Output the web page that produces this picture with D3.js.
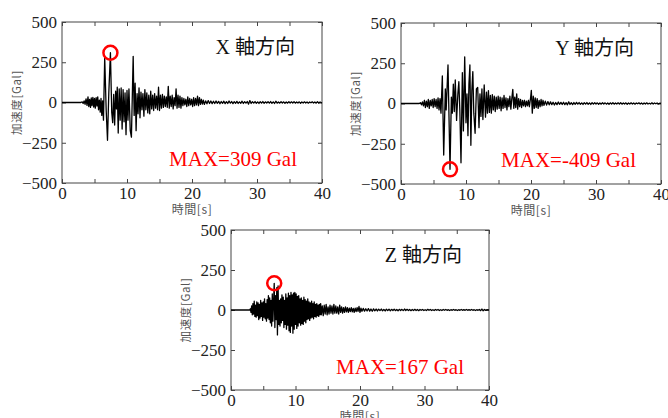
<!DOCTYPE html>
<html>
<head>
<meta charset="utf-8">
<script src="https://cdn.jsdelivr.net/npm/d3@7"></script>
<style>
  body { margin: 0; background: #fff; }
  svg { display: block; }
  .tick line { stroke: #444; }
</style>
</head>
<body>
<svg></svg>
<script>
// time [s], acceleration [Gal]
const waveX = [
  [0,0],[2.9,0],[3.1,4],[3.25,-6],[3.4,10],[3.55,-12],[3.7,22],[3.85,-18],[4.0,35],[4.12,-25],
  [4.25,20],[4.38,-30],[4.5,28],[4.62,-20],[4.75,32],[4.88,-28],[5.0,25],[5.12,-35],[5.25,30],[5.38,-22],
  [5.5,35],[5.62,-45],[5.75,15],[5.88,-60],[6.0,25],[6.12,-80],[6.25,10],[6.38,-110],[6.57,280],[6.8,-50],
  [7.0,-235],[7.2,60],[7.45,309],[7.65,-60],[7.8,-125],[7.95,50],[8.1,-140],[8.25,70],[8.38,-40],[8.5,95],
  [8.65,-190],[8.8,85],[8.95,-110],[9.1,90],[9.25,-165],[9.4,80],[9.55,-120],[9.7,60],[9.85,-200],[10.0,75],
  [10.15,-110],[10.3,85],[10.5,-175],[10.68,-215],[10.95,287],[11.1,-80],[11.25,120],[11.4,-175],[11.55,55],[11.7,-70],
  [11.85,90],[12.0,-95],[12.15,65],[12.3,-45],[12.45,55],[12.6,-85],[12.75,80],[12.9,-45],[13.05,60],[13.2,-65],
  [13.35,45],[13.5,-70],[13.65,70],[13.8,-40],[13.95,45],[14.1,-50],[14.25,55],[14.4,-35],[14.55,40],[14.7,-45],
  [14.85,95],[15.0,-50],[15.15,45],[15.3,-35],[15.45,50],[15.6,-30],[15.75,40],[15.9,-25],[16.05,35],[16.2,-30],
  [16.35,100],[16.5,-35],[16.65,40],[16.8,-25],[16.95,45],[17.1,-40],[17.25,30],[17.4,-20],[17.55,85],[17.7,-35],
  [17.85,45],[18.0,-30],[18.15,40],[18.3,-35],[18.45,30],[18.6,-20],[18.75,25],[18.9,-15],[19.05,20],[19.2,-25],
  [19.35,35],[19.5,-20],[19.65,25],[19.8,-15],[19.95,20],[20.1,-25],[20.25,30],[20.4,-20],[20.55,25],[20.7,-15],
  [20.85,40],[21.0,-20],[21.15,30],[21.3,-12],[21.45,20],[21.6,-10],[21.75,15],[21.9,-12],[22.1,10],[22.3,-8],
  [22.5,12],[22.7,-6],[22.9,9],[23.1,-7],[23.3,8],[23.5,-6],[23.7,9],[23.9,-5],[24.1,7],[24.3,-8],
  [24.5,6],[24.7,-5],[24.9,8],[25.1,-7],[25.3,5],[25.5,-6],[25.7,9],[25.9,-4],[26.1,6],[26.3,-7],
  [26.5,5],[26.7,-5],[26.9,7],[27.1,-6],[27.3,4],[27.5,-5],[27.7,8],[27.9,-6],[28.1,5],[28.3,-4],
  [28.5,6],[28.7,-10],[28.9,12],[29.1,-6],[29.3,5],[29.5,-4],[29.7,6],[29.9,-5],[30.1,4],[30.3,-6],
  [30.5,5],[30.7,-4],[30.9,6],[31.1,-5],[31.3,4],[31.5,-3],[31.7,5],[31.9,-4],[32.1,6],[32.3,-5],
  [32.5,4],[32.7,-6],[32.9,8],[33.1,-4],[33.3,3],[33.5,-4],[33.7,5],[33.9,-3],[34.1,4],[34.3,-5],
  [34.5,3],[34.7,-4],[34.9,5],[35.1,-3],[35.3,4],[35.5,-3],[35.7,5],[35.9,-4],[36.1,3],[36.3,-3],
  [36.5,4],[36.7,-5],[36.9,3],[37.1,-3],[37.3,4],[37.5,-3],[37.7,3],[37.9,-4],[38.1,3],[38.3,-2],
  [38.5,4],[38.7,-3],[38.9,3],[39.1,-4],[39.3,5],[39.5,-3],[39.7,3],[39.9,-2],[40,0]
];

const waveY = [
  [0,0],[2.8,0],[3.0,5],[3.15,-8],[3.3,10],[3.45,-15],[3.6,20],[3.75,-25],[3.9,15],[4.05,-20],
  [4.2,25],[4.35,-30],[4.5,20],[4.65,-15],[4.8,25],[4.95,-25],[5.1,30],[5.25,-20],[5.4,25],[5.55,-30],
  [5.7,35],[5.85,-40],[6.0,30],[6.15,-60],[6.36,171],[6.57,-320],[6.82,90],[6.95,-40],[7.23,239],[7.54,-409],
  [7.75,40],[7.9,-60],[8.05,120],[8.2,-50],[8.35,146],[8.55,-105],[8.75,60],[8.9,135],[9.05,-40],[9.23,-368],
  [9.44,191],[9.6,-170],[9.8,290],[10.0,-120],[10.15,60],[10.3,-200],[10.45,120],[10.6,239],[10.75,-260],[10.9,80],
  [11.05,198],[11.2,-60],[11.4,-185],[11.6,90],[11.8,100],[12.0,-150],[12.15,60],[12.3,-80],[12.45,90],[12.6,-100],
  [12.8,115],[13.0,-85],[13.15,70],[13.3,-60],[13.45,80],[13.6,-55],[13.75,50],[13.9,-60],[14.05,55],[14.2,-40],
  [14.35,45],[14.5,-50],[14.65,40],[14.8,-35],[14.95,45],[15.1,-30],[15.25,40],[15.4,-45],[15.55,35],[15.7,-30],
  [15.85,50],[16.0,-25],[16.15,35],[16.3,-40],[16.45,30],[16.6,-20],[16.75,45],[16.9,-35],[17.05,30],[17.2,88],
  [17.35,-30],[17.5,40],[17.65,-25],[17.8,60],[17.95,-35],[18.1,30],[18.25,-20],[18.4,25],[18.55,-25],[18.7,20],
  [18.85,-15],[19.0,20],[19.15,-20],[19.3,15],[19.45,-15],[19.6,20],[19.75,-20],[19.95,40],[20.05,82],[20.2,-60],
  [20.35,45],[20.5,-30],[20.65,35],[20.8,-25],[20.95,30],[21.1,-30],[21.25,20],[21.4,-20],[21.55,25],[21.7,-15],
  [21.85,20],[22.0,-12],[22.2,15],[22.4,-10],[22.6,12],[22.8,-8],[23.0,10],[23.2,-7],[23.4,8],[23.6,-9],
  [23.8,6],[24.0,-7],[24.2,9],[24.4,-5],[24.6,7],[24.8,-6],[25.0,8],[25.2,-7],[25.4,5],[25.6,-8],
  [25.8,10],[26.0,-6],[26.2,5],[26.4,-7],[26.6,6],[26.8,-5],[27.0,7],[27.2,-4],[27.4,6],[27.6,-5],
  [27.8,4],[28.0,-6],[28.2,5],[28.4,-4],[28.6,6],[28.8,-5],[29.0,4],[29.2,-6],[29.4,5],[29.6,-4],
  [29.8,5],[30.0,-3],[30.2,4],[30.4,-5],[30.6,3],[30.8,-4],[31.0,5],[31.2,-3],[31.4,4],[31.6,-4],
  [31.8,3],[32.0,-5],[32.2,4],[32.4,-3],[32.6,5],[32.8,-4],[33.0,3],[33.2,-3],[33.4,4],[33.6,-3],
  [33.8,5],[34.0,-4],[34.2,3],[34.4,-3],[34.6,4],[34.8,-5],[35.0,3],[35.2,-3],[35.4,4],[35.6,-3],
  [35.8,3],[36.0,-4],[36.2,3],[36.4,-2],[36.6,4],[36.8,-3],[37.0,3],[37.2,-4],[37.4,3],[37.6,-3],
  [37.8,4],[38.0,-3],[38.2,2],[38.4,-3],[38.6,4],[38.8,-3],[39.0,3],[39.2,-2],[39.4,3],[39.6,-3],
  [39.8,2],[40,0]
];

const waveZ = [
  [0,0],[2.9,0],[3.0,8],[3.1,-15],[3.2,25],[3.3,-30],[3.4,40],[3.5,-25],[3.6,55],[3.7,-40],
  [3.8,30],[3.9,-45],[4.0,50],[4.1,-35],[4.2,45],[4.3,-60],[4.4,35],[4.5,-50],[4.6,60],[4.7,-40],
  [4.8,45],[4.9,-65],[5.0,50],[5.1,-45],[5.2,70],[5.3,-55],[5.4,40],[5.5,-70],[5.6,65],[5.7,-50],
  [5.8,90],[5.9,-60],[6.0,75],[6.1,-80],[6.2,60],[6.3,-100],[6.4,100],[6.5,-70],[6.6,50],[6.7,167],
  [6.8,-110],[6.9,90],[7.0,-60],[7.1,140],[7.2,-156],[7.3,150],[7.4,-90],[7.5,60],[7.6,-100],[7.7,70],
  [7.8,-80],[7.9,95],[8.0,-65],[8.1,80],[8.2,-110],[8.3,60],[8.4,-90],[8.5,100],[8.6,-120],[8.7,75],
  [8.8,-95],[8.9,105],[9.0,-130],[9.1,90],[9.2,-140],[9.3,110],[9.4,-100],[9.5,95],[9.6,-145],[9.7,105],
  [9.8,-120],[9.9,110],[10.0,-90],[10.1,100],[10.2,-115],[10.3,85],[10.4,-100],[10.5,90],[10.6,-80],[10.7,70],
  [10.8,-95],[10.9,75],[11.0,-85],[11.1,60],[11.2,-90],[11.3,80],[11.4,-70],[11.5,65],[11.6,-80],[11.7,55],
  [11.8,-60],[11.9,70],[12.0,-55],[12.1,50],[12.2,-65],[12.3,45],[12.4,-50],[12.5,55],[12.6,-45],[12.7,40],
  [12.8,-55],[12.9,50],[13.0,-40],[13.1,35],[13.2,-45],[13.3,40],[13.4,-35],[13.5,30],[13.6,-40],[13.7,35],
  [13.8,-30],[13.9,40],[14.0,-30],[14.15,25],[14.3,-35],[14.45,30],[14.6,-25],[14.75,35],[14.9,-30],[15.05,20],
  [15.2,-25],[15.35,30],[15.5,-20],[15.65,25],[15.8,-25],[15.95,35],[16.1,-20],[16.25,25],[16.4,-20],[16.55,20],
  [16.7,-25],[16.85,30],[17.0,-15],[17.15,20],[17.3,-20],[17.45,15],[17.6,-15],[17.75,20],[17.9,-12],[18.05,15],
  [18.2,-15],[18.35,12],[18.5,-10],[18.65,15],[18.8,-12],[18.95,10],[19.1,-15],[19.25,12],[19.4,-10],[19.55,15],
  [19.7,-8],[19.85,22],[20.0,-15],[20.15,12],[20.3,-8],[20.5,10],[20.7,-7],[20.9,8],[21.1,-6],[21.3,9],
  [21.5,-7],[21.7,6],[21.9,-8],[22.1,7],[22.3,-5],[22.5,6],[22.7,-6],[22.9,5],[23.1,-4],[23.3,6],
  [23.5,-5],[23.7,4],[23.9,-6],[24.1,5],[24.3,-4],[24.5,5],[24.7,-5],[24.9,4],[25.1,-3],[25.3,5],
  [25.5,-4],[25.7,3],[25.9,-5],[26.1,4],[26.3,-3],[26.5,4],[26.7,-4],[26.9,6],[27.1,-3],[27.3,4],
  [27.5,-3],[27.7,3],[27.9,-4],[28.1,3],[28.3,-3],[28.5,4],[28.7,-3],[28.9,3],[29.1,-4],[29.3,3],
  [29.5,-2],[29.7,3],[29.9,-3],[30.1,2],[30.3,-3],[30.5,4],[30.7,-2],[30.9,3],[31.1,-3],[31.3,2],
  [31.5,-3],[31.7,3],[31.9,-2],[32.1,3],[32.3,-3],[32.5,2],[32.7,-3],[32.9,3],[33.1,-2],[33.3,3],
  [33.5,-2],[33.7,2],[33.9,-3],[34.1,2],[34.3,-2],[34.5,3],[34.7,-2],[34.9,2],[35.1,-3],[35.3,2],
  [35.5,-2],[35.7,3],[35.9,-2],[36.1,2],[36.3,-2],[36.5,3],[36.7,-2],[36.9,2],[37.1,-2],[37.3,3],
  [37.5,-2],[37.7,2],[37.9,-3],[38.1,2],[38.3,-2],[38.5,3],[38.7,-4],[38.9,6],[39.1,-5],[39.3,3],
  [39.5,-2],[39.7,2],[40,0]
];

const xTicks = [0, 5, 10, 15, 20, 25, 30, 35, 40];
const yTicks = [-500, -250, 0, 250, 500];
const titles = ["X 軸方向", "Y 軸方向", "Z 軸方向"];
const maxLabels = ["MAX=309 Gal", "MAX=-409 Gal", "MAX=167 Gal"];
const peaks = [[7.45, 309], [7.54, -409], [6.7, 167]];

const svg = d3.select("svg")
    .attr("width", 668)
    .attr("height", 418);

const panels = [
  { left: 62, top: 22, w: 260, h: 161, data: waveX },
  { left: 401, top: 23, w: 260, h: 161, data: waveY },
  { left: 231, top: 230, w: 258, h: 160, data: waveZ }
];

function serifTicks(a) {
  a.select(".domain").remove();
  a.selectAll("text")
      .style("font-family", "'Liberation Serif', 'Times New Roman', serif")
      .style("font-size", "17px")
      .style("fill", "#222");
}

panels.forEach((p, i) => {
  const g = svg.append("g").attr("transform", `translate(${p.left},${p.top})`);

  const x = d3.scaleLinear().domain([0, 40]).range([0, p.w]);
  const y = d3.scaleLinear().domain([-500, 500]).range([p.h, 0]);

  // axes, ticks pointing inward
  g.append("g")
      .attr("transform", `translate(0,${p.h})`)
      .call(d3.axisBottom(x).tickValues(xTicks).tickSizeInner(-4).tickSizeOuter(0).tickPadding(4)
          .tickFormat(d => d % 10 === 0 ? d : ""))
      .call(serifTicks);
  g.append("g")
      .call(d3.axisTop(x).tickValues(xTicks).tickSizeInner(-4).tickSizeOuter(0).tickFormat(""))
      .call(serifTicks);
  g.append("g")
      .call(d3.axisLeft(y).tickValues(yTicks).tickSizeInner(-4).tickSizeOuter(0).tickPadding(5))
      .call(serifTicks);
  g.append("g")
      .attr("transform", `translate(${p.w},0)`)
      .call(d3.axisRight(y).tickValues(yTicks).tickSizeInner(-4).tickSizeOuter(0).tickFormat(""))
      .call(serifTicks);

  g.append("rect")
      .attr("width", p.w)
      .attr("height", p.h)
      .attr("fill", "none")
      .attr("stroke", "#444")
      .attr("stroke-width", 1);

  const line = d3.line()
      .x(d => x(d[0]))
      .y(d => y(d[1]));

  g.append("path")
      .datum(p.data)
      .attr("d", line)
      .attr("fill", "none")
      .attr("stroke", "#000")
      .attr("stroke-width", 1.3)
      .attr("stroke-linejoin", "round");

  g.append("circle")
      .attr("cx", x(peaks[i][0]))
      .attr("cy", y(peaks[i][1]))
      .attr("r", 7)
      .attr("fill", "none")
      .attr("stroke", "#f00")
      .attr("stroke-width", 2.5);

  g.append("text")
      .attr("x", p.w - 27)
      .attr("y", 32)
      .attr("text-anchor", "end")
      .style("font-family", "'Liberation Serif', 'Noto Sans CJK JP', serif")
      .style("font-size", "20px")
      .style("fill", "#111")
      .text(titles[i]);

  g.append("text")
      .attr("x", p.w - 25)
      .attr("y", 144)
      .attr("text-anchor", "end")
      .style("font-family", "'Liberation Serif', serif")
      .style("font-size", "21px")
      .style("fill", "#f00")
      .text(maxLabels[i]);

  g.append("text")
      .attr("transform", `translate(-46,${p.h / 2}) rotate(-90)`)
      .attr("text-anchor", "middle")
      .attr("dominant-baseline", "central")
      .style("font-family", "'Noto Sans CJK JP', sans-serif")
      .style("font-size", "11.5px")
      .style("letter-spacing", "0.6px")
      .style("fill", "#555")
      .text("加速度[Gal]");

  g.append("text")
      .attr("x", p.w / 2)
      .attr("y", p.h + 31)
      .attr("text-anchor", "middle")
      .style("font-family", "'Noto Sans CJK JP', sans-serif")
      .style("font-size", "12px")
      .style("letter-spacing", "0.6px")
      .style("fill", "#555")
      .text("時間[s]");
});
</script>
</body>
</html>
